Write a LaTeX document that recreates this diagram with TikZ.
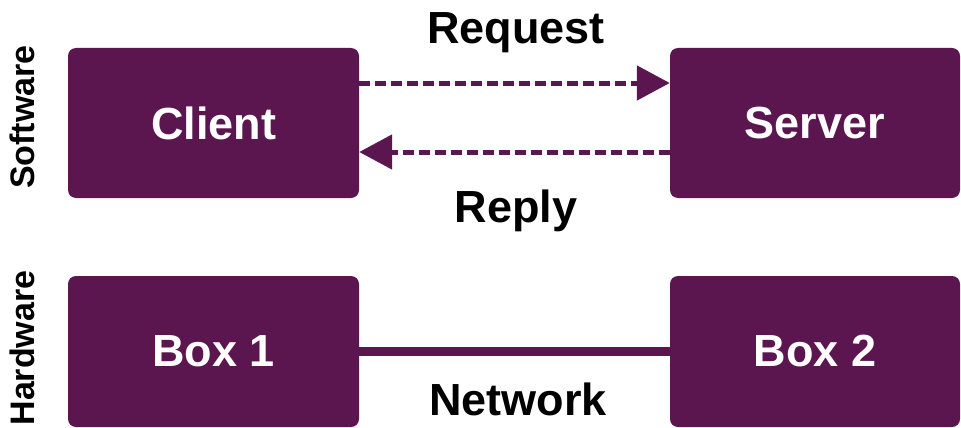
\documentclass[tikz,border=0pt]{standalone}
\usepackage{fontspec}
\setmainfont{Liberation Sans}
\usetikzlibrary{arrows.meta}
\definecolor{plum}{HTML}{5B164F}
\begin{document}
\begin{tikzpicture}[x=1pt,y=-1pt,
  box/.style={fill=plum, rounded corners=8pt, inner sep=0pt},
  boxtext/.style={text=white, font=\bfseries\fontsize{45}{45}\selectfont},
  label/.style={text=black, font=\bfseries\fontsize{45}{45}\selectfont},
  side/.style={text=black, font=\bfseries\fontsize{34}{34}\selectfont, rotate=90},
  msg/.style={plum, line width=5pt, dash pattern=on 11pt off 5pt,
    -{Triangle[length=33pt,width=34pt]}},
  wire/.style={plum, line width=9pt}]
  \useasboundingbox (0,0) rectangle (961,428);
  % software layer
  \node[box, minimum width=291pt, minimum height=150pt] (client) at (213.5,123) {};
  \node[box, minimum width=290pt, minimum height=150pt] (server) at (815,123) {};
  \node[boxtext] at (client.center) {Client};
  \node[boxtext] at (server.center) {Server};
  % hardware layer
  \node[box, minimum width=291pt, minimum height=151pt] (box1) at (213.5,351.5) {};
  \node[box, minimum width=290pt, minimum height=151pt] (box2) at (815,351.5) {};
  \node[boxtext] at (box1.center) {Box 1};
  \node[boxtext] at (box2.center) {Box 2};
  % messages
  \coordinate (reqA) at (client.east |- 0,83);
  \coordinate (reqB) at (server.west |- 0,83);
  \coordinate (repA) at (server.west |- 0,152);
  \coordinate (repB) at (client.east |- 0,152);
  \draw[msg] (reqA) -- (reqB);
  \draw[msg] (repA) -- (repB);
  \draw[wire] (box1.east |- 0,351) -- (box2.west |- 0,351);
  % labels
  \node[label] (req) at (516,33) {Request};
  \node[label] (rep) at (516,211) {Reply};
  \node[label] (net) at (518,399) {Network};
  \node[side] (sw) at (22,117) {Software};
  \node[side] (hw) at (22,348) {Hardware};
\end{tikzpicture}
\end{document}
